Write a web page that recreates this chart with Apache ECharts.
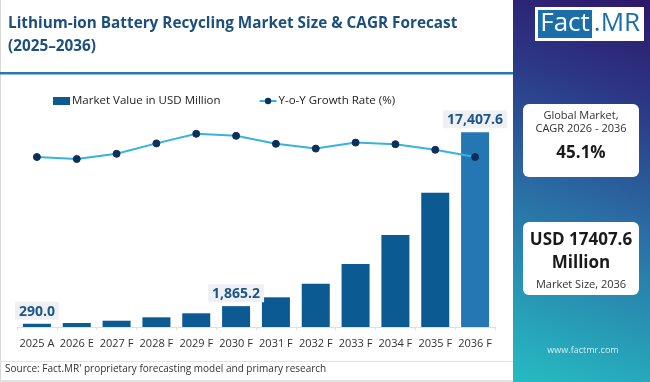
<!DOCTYPE html>
<html><head><meta charset="utf-8">
<script src="https://cdn.jsdelivr.net/npm/echarts@6/dist/echarts.min.js"></script>
<style>html,body{margin:0;padding:0;background:#fff}#c{width:650px;height:382px}</style>
</head><body><div id="c"></div>
<script>
const categories = ['2025 A','2026 E','2027 F','2028 F','2029 F','2030 F','2031 F','2032 F','2033 F','2034 F','2035 F','2036 F'];
const marketValue = [290.0, 358, 563, 867, 1225, 1865.2, 2655, 3871, 5632, 8225, 12006, 17407.6];
const growthRate = [45.0, 44.5, 45.8, 48.4, 50.8, 50.3, 48.3, 47.1, 48.6, 48.2, 46.8, 45.0];
const labelledIdx = [0, 5, 11];

const F = "'Open Sans', 'Noto Sans', sans-serif";
const chart = echarts.init(document.getElementById('c'), null, {renderer:'canvas'});

const barData = marketValue.map((v,i)=>{
  const d = {value:v, itemStyle:{color: i===11 ? '#2577b3' : '#0b5a92'}};
  if (labelledIdx.includes(i)) {
    d.label = {show:true, position:'top', distance:4,
      formatter: p => p.value.toLocaleString('en-US',{minimumFractionDigits:1, maximumFractionDigits:1}),
      color:'#1c5688', fontWeight:'bold', fontSize:14, fontFamily:F,
      backgroundColor:'#eef0f3', padding:[3,4,1,4]};
  }
  return d;
});

chart.setOption({
  animation:false,
  textStyle:{fontFamily:F},
  grid:{left:17, right:155, top:90, bottom:55, containLabel:false},
  legend:{
    left:48, top:90, itemGap:38, itemWidth:17, itemHeight:8,
    textStyle:{fontSize:11.5, color:'#222', fontFamily:F, padding:[0,0,0,-3]},
    data:[{name:'Market Value in USD Million', icon:'rect'}, {name:'Y-o-Y Growth Rate (%)'}]
  },
  xAxis:{type:'category', data:categories,
    axisLine:{lineStyle:{color:'#f0d9cf'}},
    axisTick:{show:true, length:3, lineStyle:{color:'#f0d9cf'}},
    axisLabel:{color:'#333', fontSize:11, margin:11, fontFamily:F, interval:0}
  },
  yAxis:[
    {type:'value', min:0, max:21190, show:false, splitLine:{show:false}},
    {type:'value', min:2.5, max:61.75, show:false, splitLine:{show:false}}
  ],
  series:[
    {name:'Market Value in USD Million', type:'bar', data:barData, barWidth:28, yAxisIndex:0,
     itemStyle:{color:'#0b5a92'}},
    {name:'Y-o-Y Growth Rate (%)', type:'line', data:growthRate, yAxisIndex:1, z:5,
     lineStyle:{color:'#36b3de', width:2}, symbol:'circle', symbolSize:7,
     itemStyle:{color:'#0d2f5c', borderColor:'#0d2f5c'}}
  ],
  graphic:[
    {type:'rect', shape:{x:0,y:0,width:1,height:382}, style:{fill:'#d8d8d8'}, silent:true},
    {type:'text', left:8, top:12, style:{text:'Lithium-ion Battery Recycling Market Size & CAGR Forecast\n(2025–2036)',
      fill:'#1d4f7c', font:"bold 15.3px "+F, lineHeight:23}},
    {type:'rect', shape:{x:0,y:72,width:513,height:2.5}, style:{fill:'#2a79a8'}},
    {type:'rect', shape:{x:0,y:361,width:513,height:1}, style:{fill:'#e2e2e2'}},
    {type:'rect', shape:{x:0,y:380,width:513,height:2}, style:{fill:'#e2e2e2'}},
    {type:'text', left:5, top:364, style:{text:"Source: Fact.MR' proprietary forecasting model and primary research", fill:'#333', font:"10px "+F}},
    {type:'rect', shape:{x:513,y:0,width:137,height:382},
      style:{fill:new echarts.graphic.LinearGradient(0,1,1,0,[
        {offset:0,color:'#25bcc2'},{offset:0.45,color:'#2a6fa5'},{offset:0.75,color:'#2c3886'},{offset:1,color:'#2d176a'}])}},
    {type:'rect', shape:{x:535,y:7,width:109,height:34}, style:{fill:'#fff'}},
    {type:'rect', shape:{x:538,y:10,width:54,height:28}, style:{fill:'#1a6fa8'}},
    {type:'text', x:565, y:24, style:{text:'Fact', fill:'#fff', font:"26px "+F, align:'center', verticalAlign:'middle'}},
    {type:'text', x:617, y:24, style:{text:'.MR', fill:'#1a6fa8', font:"26px "+F, align:'center', verticalAlign:'middle'}},
    {type:'rect', shape:{x:523,y:104,width:116,height:73,r:6}, style:{fill:'#fff'}},
    {type:'text', x:581, y:116, style:{text:'Global Market,', fill:'#333', font:"11px "+F, align:'center', verticalAlign:'middle'}},
    {type:'text', x:581, y:129, style:{text:'CAGR 2026 - 2036', fill:'#333', font:"11px "+F, align:'center', verticalAlign:'middle'}},
    {type:'text', x:581, y:153, style:{text:'45.1%', fill:'#1a1a1a', font:"bold 17px "+F, align:'center', verticalAlign:'middle'}},
    {type:'rect', shape:{x:523,y:222,width:116,height:73,r:6}, style:{fill:'#fff'}},
    {type:'text', x:581, y:240, style:{text:'USD 17407.6', fill:'#1a1a1a', font:"bold 17px "+F, align:'center', verticalAlign:'middle'}},
    {type:'text', x:581, y:263, style:{text:'Million', fill:'#1a1a1a', font:"bold 17px "+F, align:'center', verticalAlign:'middle'}},
    {type:'text', x:581, y:285, style:{text:'Market Size, 2036', fill:'#333', font:"11px "+F, align:'center', verticalAlign:'middle'}},
    {type:'text', x:583, y:350, style:{text:'www.factmr.com', fill:'#d6ecf8', font:"9px "+F, align:'center', verticalAlign:'middle'}}
  ]
});
</script></body></html>
